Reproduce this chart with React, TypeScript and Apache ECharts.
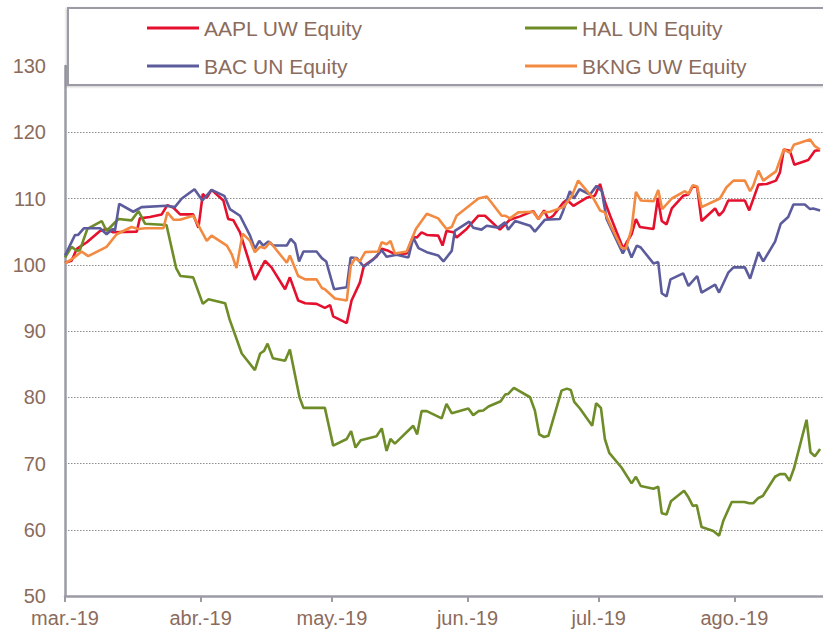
import React, { useEffect, useRef } from "react";
import * as echarts from "echarts";

// Day offsets are days since 1 March 2019
const seriesNames = ["AAPL UW Equity", "HAL UN Equity", "BAC UN Equity", "BKNG UW Equity"];

const aaplDays = [0, 1.5, 2.7, 5.0, 8.0, 9.5, 11.0, 16.4, 17.1, 19.4, 22.1, 23.4, 24.8, 26.3, 29.3, 30.5, 31.5, 32.4, 33.5, 36.2, 37.3, 38.5, 40.0, 43.4, 45.7, 47.2, 50.3, 51.4, 53.3, 54.9, 57.5, 59.4, 60.6, 61.3, 64.4, 65.5, 67.4, 68.3, 71.2, 72.4, 73.9, 75.4, 78.1, 79.5, 80.4, 81.5, 82.7, 85.3, 86.3, 87.2, 88.8, 89.5, 91.8, 94.5, 96.0, 99.4, 101.7, 104.0, 107.0, 108.2, 109.5, 110.5, 111.6, 113.9, 114.7, 116.2, 119.2, 121.1, 122.3, 123.4, 124.6, 127.6, 128.4, 129.5, 130.5, 131.4, 134.5, 135.5, 136.4, 137.5, 138.7, 141.3, 142.5, 143.5, 144.5, 145.5, 148.6, 149.5, 150.5, 151.6, 155.4, 156.4, 158.5, 160.4, 162.5, 163.4, 164.3, 165.7, 166.7, 169.9, 171.4, 172.6];
const aaplValues = [100.3, 100.6, 102.4, 103.4, 105.1, 105.4, 104.9, 105.0, 107.0, 107.2, 107.6, 109.0, 108.6, 107.6, 107.6, 105.6, 110.7, 110.1, 111.3, 109.7, 106.9, 106.7, 104.9, 97.7, 100.6, 99.6, 96.3, 98.1, 94.6, 94.2, 94.1, 93.5, 93.9, 92.2, 91.2, 94.6, 97.3, 99.8, 101.2, 102.4, 102.1, 101.6, 101.7, 104.2, 104.1, 104.9, 104.5, 104.4, 102.9, 105.1, 104.9, 104.1, 105.4, 107.4, 107.4, 105.3, 106.8, 107.3, 108.1, 106.9, 108.2, 106.9, 107.4, 109.4, 109.8, 108.9, 110.1, 110.4, 112.2, 109.5, 107.4, 102.4, 103.4, 104.6, 106.9, 105.7, 105.4, 110.1, 106.6, 106.1, 108.5, 110.4, 110.6, 111.9, 111.7, 106.6, 108.5, 107.4, 108.1, 109.7, 109.7, 108.2, 112.1, 112.2, 112.7, 113.9, 117.4, 117.2, 115.1, 115.8, 117.2, 117.3];

const halDays = [0, 1.5, 2.7, 3.4, 5.1, 8.4, 9.5, 12.2, 15.2, 16.8, 18.3, 23.2, 25.4, 26.4, 29.3, 31.5, 32.8, 36.6, 37.6, 40.4, 43.4, 44.6, 45.5, 46.3, 47.5, 50.3, 51.4, 53.6, 54.5, 59.4, 61.3, 64.4, 65.4, 66.4, 67.6, 71.2, 72.4, 73.5, 74.4, 75.4, 79.6, 80.5, 81.5, 82.7, 86.1, 87.2, 88.4, 92.2, 93.3, 94.5, 95.6, 96.8, 99.6, 100.6, 101.3, 102.6, 106.3, 107.4, 108.4, 109.5, 110.5, 113.5, 114.7, 115.6, 116.4, 117.7, 120.5, 121.4, 122.5, 123.4, 124.4, 127.2, 129.5, 130.5, 131.6, 134.5, 135.6, 136.4, 137.5, 138.5, 141.5, 142.5, 143.5, 144.4, 145.5, 148.2, 149.5, 150.5, 152.4, 155.3, 156.4, 157.3, 158.5, 159.5, 162.3, 163.4, 164.6, 165.6, 166.6, 169.5, 170.4, 171.4, 172.6];
const halValues = [101.1, 102.7, 102.1, 102.2, 105.4, 106.6, 105.1, 106.9, 106.7, 108.1, 106.2, 106.0, 99.5, 98.3, 98.1, 94.1, 94.8, 94.2, 91.8, 86.6, 84.1, 86.6, 87.0, 88.1, 85.9, 85.5, 87.2, 80.0, 78.4, 78.4, 72.7, 73.7, 74.9, 72.4, 73.5, 74.1, 75.3, 71.9, 73.7, 73.0, 75.7, 74.4, 77.9, 77.9, 76.8, 79.0, 77.6, 78.3, 77.3, 77.9, 78.0, 78.6, 79.4, 80.4, 80.5, 81.4, 80.0, 78.0, 74.4, 74.0, 74.2, 81.0, 81.3, 81.1, 79.3, 78.3, 75.7, 79.1, 78.4, 73.7, 71.6, 69.4, 67.0, 68.0, 66.6, 66.2, 66.5, 62.5, 62.3, 64.3, 65.9, 64.9, 63.6, 63.7, 60.4, 59.8, 59.1, 61.4, 64.2, 64.2, 64.0, 64.0, 64.8, 65.1, 68.0, 68.4, 68.4, 67.4, 69.2, 76.6, 71.7, 71.1, 72.2];

const bacDays = [0, 2.3, 3.0, 4.3, 8.0, 9.5, 10.9, 11.4, 12.4, 15.6, 17.5, 23.2, 25.1, 26.7, 29.6, 31.4, 33.5, 36.4, 37.7, 40.0, 42.3, 43.4, 44.4, 45.3, 46.5, 47.6, 50.7, 51.6, 52.6, 53.5, 54.5, 57.5, 58.7, 59.7, 61.5, 64.4, 65.3, 66.7, 68.3, 70.5, 72.4, 73.5, 75.8, 78.5, 79.6, 80.8, 82.7, 85.3, 86.5, 88.4, 89.1, 92.4, 93.3, 95.2, 96.4, 99.0, 100.6, 101.3, 102.9, 106.3, 107.4, 109.7, 113.1, 113.9, 115.4, 116.3, 117.6, 120.0, 121.5, 122.7, 123.8, 127.5, 128.4, 129.5, 130.7, 131.6, 134.5, 135.6, 136.4, 137.5, 138.4, 141.3, 142.5, 144.5, 145.5, 148.6, 149.5, 151.6, 152.8, 155.4, 156.6, 158.5, 159.6, 162.3, 163.6, 165.3, 166.5, 169.1, 170.3, 171.0, 172.6];
const bacValues = [101.4, 104.5, 104.5, 105.5, 105.5, 104.6, 105.4, 105.1, 109.2, 108.0, 108.7, 108.9, 108.7, 110.0, 111.4, 109.7, 111.3, 110.4, 108.4, 107.4, 104.4, 102.4, 103.6, 102.9, 103.5, 102.9, 102.9, 103.9, 103.2, 100.5, 102.0, 102.0, 101.0, 100.5, 96.3, 96.6, 101.1, 101.0, 99.7, 100.8, 102.2, 101.2, 101.5, 101.1, 104.1, 102.5, 101.9, 101.4, 100.5, 102.1, 105.1, 106.5, 105.6, 105.3, 105.9, 105.6, 106.4, 105.3, 106.6, 105.9, 105.0, 106.8, 106.9, 108.2, 111.1, 110.0, 111.4, 110.6, 111.9, 111.1, 106.9, 101.7, 102.9, 101.1, 102.9, 102.6, 100.2, 100.4, 95.7, 95.2, 97.8, 98.7, 96.8, 98.3, 95.8, 97.0, 95.8, 98.8, 99.6, 99.6, 97.9, 101.9, 100.5, 103.5, 106.2, 107.2, 109.1, 109.1, 108.4, 108.5, 108.2];

const bkngDays = [0, 1.9, 3.8, 5.3, 9.5, 11.8, 15.2, 16.8, 18.3, 22.5, 23.4, 24.8, 26.3, 29.3, 32.4, 33.5, 37.0, 38.1, 39.2, 40.6, 42.3, 43.4, 44.6, 45.7, 46.9, 50.7, 51.4, 53.3, 54.9, 57.5, 58.7, 59.4, 61.7, 64.4, 65.3, 66.3, 67.4, 68.6, 71.6, 72.4, 73.5, 74.4, 75.4, 78.1, 80.2, 82.7, 85.3, 87.2, 88.4, 89.5, 94.5, 96.4, 99.8, 100.6, 101.7, 103.6, 107.0, 108.2, 109.3, 110.9, 113.9, 115.8, 117.3, 120.8, 122.3, 123.4, 124.6, 127.2, 128.2, 129.5, 130.5, 131.6, 134.6, 135.6, 136.5, 138.7, 141.7, 142.5, 143.5, 144.5, 145.5, 149.7, 151.2, 152.8, 155.4, 156.6, 157.3, 158.5, 159.6, 162.5, 164.3, 165.7, 166.6, 170.3, 171.4, 172.6];
const bkngValues = [100.2, 101.0, 102.0, 101.3, 102.7, 104.6, 105.7, 105.4, 105.5, 105.5, 107.9, 106.8, 106.8, 107.4, 103.6, 104.4, 102.9, 101.6, 99.5, 104.7, 103.6, 101.9, 102.7, 102.5, 103.4, 100.3, 101.4, 98.3, 97.8, 97.8, 96.5, 96.3, 94.9, 94.6, 99.8, 101.0, 100.5, 101.9, 102.0, 103.4, 103.1, 103.6, 101.7, 102.0, 105.4, 107.7, 107.0, 105.4, 105.7, 107.4, 110.0, 110.3, 107.4, 107.4, 107.0, 107.9, 108.0, 106.9, 107.9, 108.0, 108.7, 110.3, 112.7, 110.0, 108.2, 107.9, 106.1, 102.6, 102.4, 105.4, 111.0, 109.7, 109.6, 111.3, 108.4, 110.0, 111.1, 110.7, 112.0, 111.8, 108.7, 110.0, 111.7, 112.7, 112.7, 111.1, 111.9, 114.2, 112.7, 114.1, 117.4, 116.9, 118.1, 118.9, 117.9, 117.4];

const monthStarts = ["2019-03-01", "2019-04-01", "2019-05-01", "2019-06-01", "2019-07-01", "2019-08-01"];
const monthLabels = ["mar.-19", "abr.-19", "may.-19", "jun.-19", "jul.-19", "ago.-19"];
const axisEndDay = 173.26;

const seriesColors = ["#E5102E", "#6E8C28", "#5C5C9C", "#F38A42"];

const DAY = 86400000;
const MAR1 = Date.UTC(2019, 2, 1);
const toPoints = (days: number[], vals: number[]) => days.map((d, i) => [d, vals[i]]);

const TEXT = "#8B6B5C";
const AXIS = "#9B9BA6";
const FONT = "'Liberation Sans', Arial, sans-serif";

export default function App() {
  const ref = useRef<HTMLDivElement>(null);
  useEffect(() => {
    if (!ref.current) return;
    const chart = echarts.init(ref.current, undefined, { renderer: "svg" });
    const tickValues = monthStarts.map((s) => Math.round((Date.parse(s) - MAR1) / DAY));
    const allData = [
      toPoints(aaplDays, aaplValues),
      toPoints(halDays, halValues),
      toPoints(bacDays, bacValues),
      toPoints(bkngDays, bkngValues),
    ];
    const legendPos = [
      { left: 147, top: 17 },
      { left: 525, top: 17 },
      { left: 147, top: 55 },
      { left: 525, top: 55 },
    ];
    chart.setOption({
      animation: false,
      backgroundColor: "#ffffff",
      textStyle: { fontFamily: FONT },
      grid: { left: 65, right: 0, top: 66, bottom: 37, containLabel: false },
      graphic: [
        {
          type: "rect",
          z: 5,
          shape: { x: 68, y: 8, width: 780, height: 77 },
          style: {
            fill: "#ffffff",
            stroke: AXIS,
            lineWidth: 2,
            shadowColor: "rgba(0,0,0,0.2)",
            shadowBlur: 2,
            shadowOffsetX: -1,
            shadowOffsetY: 1,
          },
        },
      ],
      legend: seriesNames.map((name, i) => ({
        data: [name],
        left: legendPos[i].left,
        top: legendPos[i].top,
        padding: 0,
        z: 10,
        icon: "rect",
        itemWidth: 52,
        itemHeight: 3,
        itemGap: 0,
        selectedMode: false,
        textStyle: { color: TEXT, fontSize: 21, fontFamily: FONT, lineHeight: 22 },
      })),
      xAxis: {
        type: "value",
        min: 0,
        max: axisEndDay,
        axisLine: { show: true, lineStyle: { color: AXIS, width: 2.5 } },
        axisTick: { show: true, length: 6, lineStyle: { color: AXIS, width: 2 }, customValues: tickValues },
        axisLabel: {
          customValues: tickValues,
          color: TEXT,
          fontSize: 20,
          fontFamily: FONT,
          margin: 12,
          formatter: (v: number) => {
            const idx = tickValues.findIndex((t) => Math.abs(t - v) < 0.5);
            return idx >= 0 ? monthLabels[idx] : "";
          },
        },
        splitLine: { show: false },
      },
      yAxis: {
        type: "value",
        min: 50,
        max: 130,
        interval: 10,
        axisLine: { show: true, lineStyle: { color: AXIS, width: 2.5 } },
        axisTick: { show: false },
        axisLabel: { color: TEXT, fontSize: 20, fontFamily: FONT, margin: 19 },
        splitLine: { show: true, lineStyle: { color: "#8c8c8c", width: 1, type: [1.5, 1.5] } },
      },
      series: seriesNames.map((name, i) => ({
        name,
        type: "line",
        data: allData[i],
        showSymbol: false,
        symbol: "none",
        lineStyle: { color: seriesColors[i], width: 2.6 },
        itemStyle: { color: seriesColors[i] },
        z: 2 + i,
      })),
    });
    return () => chart.dispose();
  }, []);
  return <div ref={ref} style={{ position: "fixed", left: 0, top: 0, width: 823, height: 633 }} />;
}
